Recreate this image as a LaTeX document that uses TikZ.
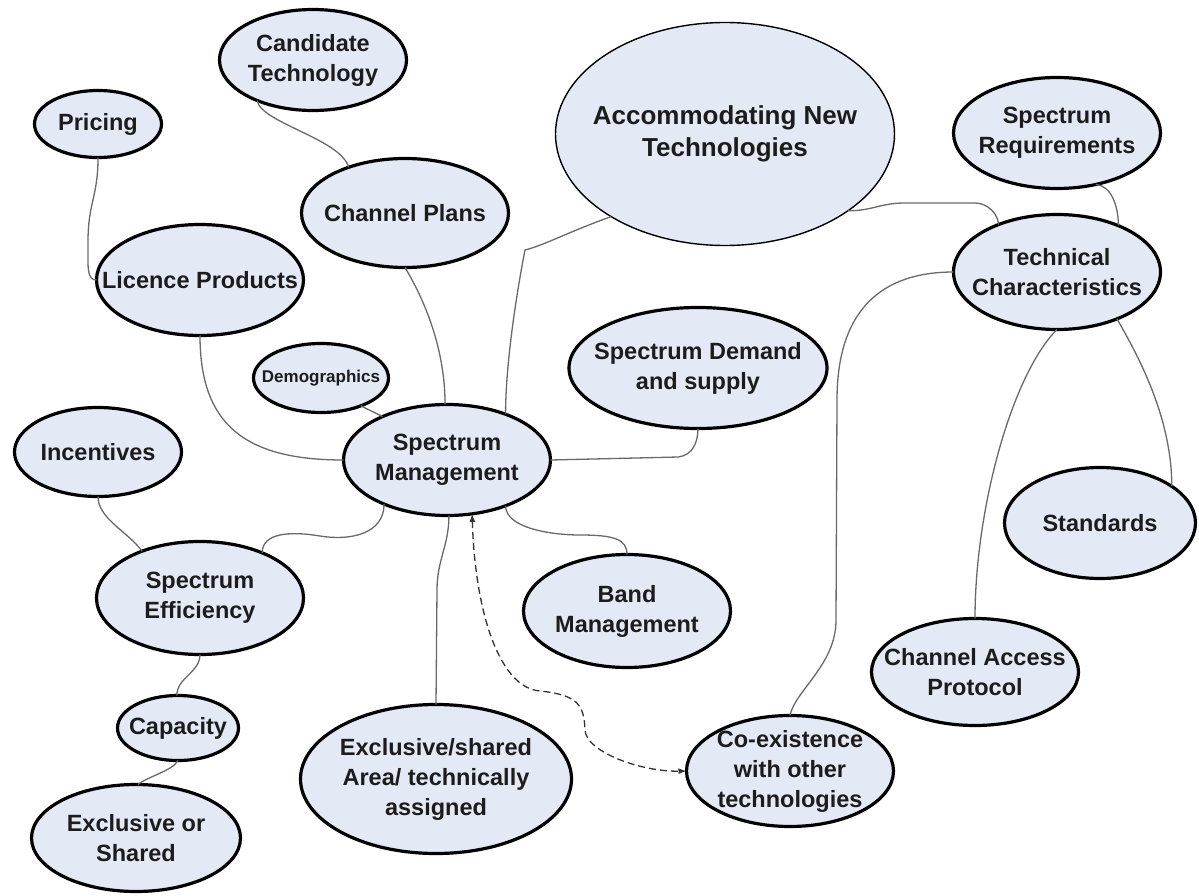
\documentclass[tikz,border=0pt]{standalone}
\usepackage{fontspec}
\setmainfont{Liberation Sans}
\usetikzlibrary{shapes.geometric,arrows.meta}
\definecolor{bubfill}{RGB}{228,234,245}
\definecolor{txtcol}{RGB}{28,28,28}
\definecolor{linkcol}{RGB}{105,105,105}
\tikzset{
  bub/.style={ellipse, draw=black, line width=3.2pt, fill=bubfill, inner sep=0pt, outer sep=0pt},
  thinbub/.style={bub, line width=1.4pt},
  txt/.style={font=\fontsize{23.5}{30}\selectfont\bfseries, text=txtcol, align=center, inner sep=0pt},
  bigtxt/.style={txt, font=\fontsize{26}{32}\selectfont\bfseries},
  smalltxt/.style={txt, font=\fontsize{17}{20}\selectfont\bfseries},
  link/.style={draw=linkcol, line width=1.3pt},
  dlink/.style={draw=black!80, line width=1.3pt, dash pattern=on 7pt off 4pt,
     {Latex[length=8pt,width=6pt]}-{Latex[length=8pt,width=6pt]}}
}
% name, center, width, height, style, text style, text
\newcommand\mybub[7]{%
  \node[#5, minimum width=#3pt, minimum height=#4pt] (#1) at #2 {};
  \node[#6] (#1-t) at (#1.center) {#7};}
\begin{document}
\begin{tikzpicture}[x=1pt,y=-1pt]
\fill[white] (0,0) rectangle (1199,896);
\useasboundingbox (0,0) rectangle (1199,896);

\mybub{cand}{(313,60)}{187}{101}{bub}{txt}{Candidate\\Technology}
\mybub{pric}{(98,124)}{127}{67}{bub}{txt}{Pricing}
\mybub{lic}{(200,280)}{207}{111}{bub}{txt}{Licence Products}
\mybub{chan}{(405,213)}{207}{109}{bub}{txt}{Channel Plans}
\mybub{acc}{(725,134)}{339}{223}{thinbub}{bigtxt}{Accommodating New\\Technologies}
\mybub{sreq}{(1057,133)}{207}{111}{bub}{txt}{Spectrum\\Requirements}
\mybub{tech}{(1057,272)}{207}{115}{bub}{txt}{Technical\\Characteristics}
\mybub{dem}{(321,378)}{135}{69}{bub}{smalltxt}{Demographics}
\mybub{sdem}{(698,368)}{258}{121}{bub}{txt}{Spectrum Demand\\and supply}
\mybub{sm}{(447,460)}{207}{111}{bub}{txt}{Spectrum\\Management}
\mybub{inc}{(98,452)}{167}{89}{bub}{txt}{Incentives}
\mybub{seff}{(200,598)}{207}{113}{bub}{txt}{Spectrum\\Efficiency}
\mybub{cap}{(178,728)}{121}{65}{bub}{txt}{Capacity}
\mybub{exs}{(136,838)}{209}{107}{bub}{txt}{Exclusive or\\Shared}
\mybub{exa}{(436,779)}{271}{149}{bub}{txt}{Exclusive/shared\\Area/ technically\\assigned}
\mybub{band}{(627,611)}{207}{113}{bub}{txt}{Band\\Management}
\mybub{coex}{(790,771)}{207}{111}{bub}{txt}{Co-existence\\with other\\technologies}
\mybub{chap}{(975,672)}{207}{107}{bub}{txt}{Channel Access\\Protocol}
\mybub{std}{(1100,523)}{191}{111}{bub}{txt}{Standards}

% connectors
\draw[link] (cand.216.5) .. controls +(3,22) and +(-7,-28) .. (chan.141.6);
\draw[link] (pric.270) .. controls +(0,40) and +(0,-40) .. (88,242) .. controls +(0,25) and +(-10,0) .. (lic.180);
\draw[link] (chan.270) .. controls +(15,25) and +(0,-62) .. (sm.92);
\draw[link] (acc.216.6) .. controls +(-40,14) and +(20,-5) .. (525,250) .. controls +(-4,20) and +(0,-60) .. (sm.38);
\draw[link] (lic.270) .. controls +(0,88) and +(-100,0) .. (sm.180);
\draw[link] (dem.325) -- (sm.146);
\draw[link] (sm.0) -- ++(128,-3) .. controls +(14,-2) and +(0,14) .. (sdem.270);
\draw[link] (inc.270) .. controls +(0,22) and +(-15,-20) .. (seff.141);
\draw[link] (sm.215) .. controls +(0,30) and +(30,5) .. (320,536) .. controls +(-30,-5) and +(0,-20) .. (seff.36.6);
\draw[link] (seff.270) .. controls +(0,18) and +(0,-18) .. (cap.92);
\draw[link] (cap.270) .. controls +(-5,10) and +(10,-8) .. (exs.88);
\draw[link] (sm.272) .. controls +(0,30) and +(0,-30) .. (437,590) -- (exa.90);
\draw[link] (sm.322) .. controls +(0,22) and +(-30,0) .. (580,535) .. controls +(35,0) and +(0,-15) .. (band.90);
\draw[dlink] (sm.295) .. controls +(3,100) and +(-40,-3) .. (540,691) .. controls +(38,4) and +(-1,-25) .. (585,730) .. controls +(1,22) and +(-45,1) .. (coex.180);
\draw[link] (coex.90) .. controls +(5,-25) and +(0,45) .. (836,620) -- (837,400) .. controls +(0,-90) and +(-72,0) .. (tech.180);
\draw[link] (acc.328.7) .. controls +(25,0) and +(-25,0) .. (905,203) -- (975,203) .. controls +(13,0) and +(0,-10) .. (tech.141.7);
\draw[link] (sreq.307) .. controls +(18,2) and +(0,-15) .. (tech.37);
\draw[link] (tech.270) .. controls +(-45,45) and +(0,-110) .. (chap.90);
\draw[link] (tech.322) .. controls +(20,35) and +(0,-70) .. (std.27.5);
\end{tikzpicture}
\end{document}
